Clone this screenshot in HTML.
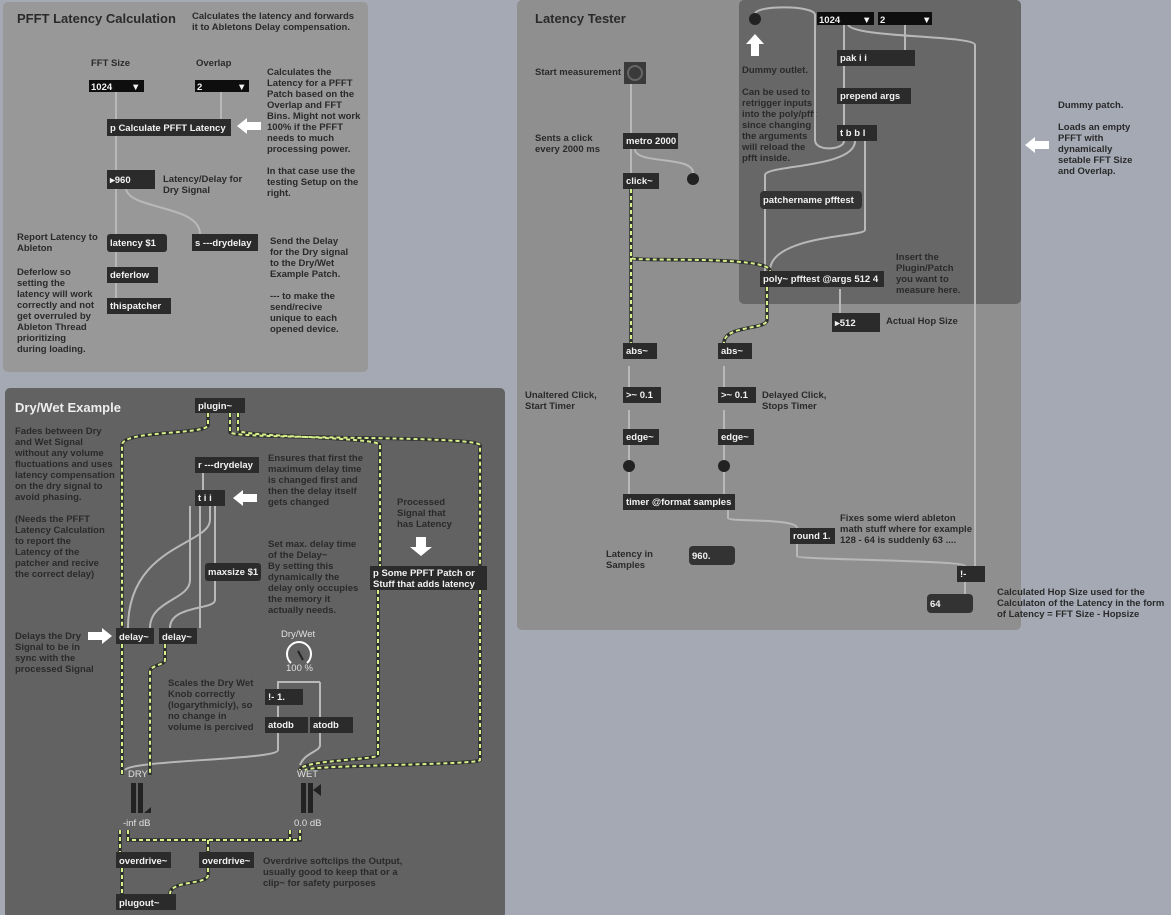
<!DOCTYPE html>
<html><head><meta charset="utf-8"><style>
body{margin:0;width:1171px;height:915px;background:#a4a9b4;overflow:hidden}
svg{display:block}
text{font-family:"Liberation Sans",sans-serif;font-weight:bold;font-size:9.5px;fill:#2a2a2a}
.w{fill:#f2f2f2}
.g{fill:#e0e0e0;font-weight:normal}
.c{fill:none;stroke:#b8b8b8;stroke-width:2}
.s1{fill:none;stroke:#2e2e2e;stroke-width:3.5}
.s2{fill:none;stroke:#d6f08a;stroke-width:2;stroke-dasharray:4 3}
</style></head><body>
<svg width="1171" height="915" xmlns="http://www.w3.org/2000/svg">
<defs>
<g id="ar"><path d="M0,0 L10,-8 L10,-4 L24,-4 L24,4 L10,4 L10,8Z" fill="#fff"/></g>
<g id="arr"><path d="M24,0 L14,-8 L14,-4 L0,-4 L0,4 L14,4 L14,8Z" fill="#fff"/></g>
</defs>
<rect x="3" y="2" width="365" height="370" rx="5" fill="#989898"/>
<rect x="5" y="388" width="500" height="530" rx="5" fill="#626262"/>
<rect x="517" y="0" width="504" height="630" rx="5" fill="#8f8f8f"/>
<rect x="739" y="0" width="282" height="304" rx="5" fill="#676767"/>

<!-- PANEL 1 -->
<text x="17" y="23" style="font-size:13px">PFFT Latency Calculation</text>
<text x="192" y="19">Calculates the latency and forwards</text>
<text x="192" y="30">it to Abletons Delay compensation.</text>
<text x="91" y="66">FFT Size</text><text x="196" y="66">Overlap</text>
<text x="267" y="75">Calculates the</text><text x="267" y="86">Latency for a PFFT</text><text x="267" y="97">Patch based on the</text><text x="267" y="108">Overlap and FFT</text><text x="267" y="119">Bins. Might not work</text><text x="267" y="130">100% if the PFFT</text><text x="267" y="141">needs to much</text><text x="267" y="152">processing power.</text>
<text x="267" y="174">In that case use the</text><text x="267" y="185">testing Setup on the</text><text x="267" y="196">right.</text>
<text x="163" y="182">Latency/Delay for</text><text x="163" y="193">Dry Signal</text>
<text x="17" y="240">Report Latency to</text><text x="17" y="251">Ableton</text>
<text x="17" y="275">Deferlow so</text><text x="17" y="286">setting the</text><text x="17" y="297">latency will work</text><text x="17" y="308">correctly and not</text><text x="17" y="319">get overruled by</text><text x="17" y="330">Ableton Thread</text><text x="17" y="341">prioritizing</text><text x="17" y="352">during loading.</text>
<text x="270" y="244">Send the Delay</text><text x="270" y="255">for the Dry signal</text><text x="270" y="266">to the Dry/Wet</text><text x="270" y="277">Example Patch.</text>
<text x="270" y="299">--- to make the</text><text x="270" y="310">send/recive</text><text x="270" y="321">unique to each</text><text x="270" y="332">opened device.</text>
<path class="c" d="M116,92V119 M221,92V119 M116,136V170 M116,189V234 M116,252V267 M116,283V298 M126,189 C130,210 200,205 200,234"/>
<rect x="89" y="80" width="55" height="12" fill="#0e0e0e"/><text x="91" y="90" class="w">1024</text><text x="131" y="90" class="w">▼</text>
<rect x="195" y="80" width="54" height="12" fill="#0e0e0e"/><text x="197" y="90" class="w">2</text><text x="237" y="90" class="w">▼</text>
<rect x="107" y="119" width="124" height="17" fill="#2b2b2b"/><text x="110" y="131" class="w">p Calculate PFFT Latency</text>
<use href="#ar" x="237" y="126"/>
<rect x="107" y="170" width="48" height="19" fill="#2b2b2b"/><text x="110" y="183" class="w">▸960</text>
<rect x="107" y="234" width="60" height="18" rx="3" fill="#2b2b2b"/><text x="110" y="246" class="w">latency $1</text>
<rect x="192" y="234" width="66" height="17" fill="#2b2b2b"/><text x="195" y="246" class="w">s ---drydelay</text>
<rect x="107" y="267" width="51" height="16" fill="#2b2b2b"/><text x="110" y="278" class="w">deferlow</text>
<rect x="107" y="298" width="64" height="16" fill="#2b2b2b"/><text x="110" y="309" class="w">thispatcher</text>

<!-- PANEL 2 -->
<text x="15" y="412" style="font-size:13px;fill:#eee">Dry/Wet Example</text>
<g>
<text x="15" y="434">Fades between Dry</text><text x="15" y="445">and Wet Signal</text><text x="15" y="456">without any volume</text><text x="15" y="467">fluctuations and uses</text><text x="15" y="478">latency compensation</text><text x="15" y="489">on the dry signal to</text><text x="15" y="500">avoid phasing.</text>
<text x="15" y="522">(Needs the PFFT</text><text x="15" y="533">Latency Calculation</text><text x="15" y="544">to report the</text><text x="15" y="555">Latency of the</text><text x="15" y="566">patcher and recive</text><text x="15" y="577">the correct delay)</text>
<text x="15" y="639">Delays the Dry</text><text x="15" y="650">Signal to be in</text><text x="15" y="661">sync with the</text><text x="15" y="672">processed Signal</text>
<text x="268" y="461">Ensures that first the</text><text x="268" y="472">maximum delay time</text><text x="268" y="483">is changed first and</text><text x="268" y="494">then the delay itself</text><text x="268" y="505">gets changed</text>
<text x="268" y="547">Set max. delay time</text><text x="268" y="558">of the Delay~</text><text x="268" y="569">By setting this</text><text x="268" y="580">dynamically the</text><text x="268" y="591">delay only occupies</text><text x="268" y="602">the memory it</text><text x="268" y="613">actually needs.</text>
<text x="397" y="505">Processed</text><text x="397" y="516">Signal that</text><text x="397" y="527">has Latency</text>
<text x="168" y="686">Scales the Dry Wet</text><text x="168" y="697">Knob correctly</text><text x="168" y="708">(logarythmicly), so</text><text x="168" y="719">no change in</text><text x="168" y="730">volume is percived</text>
<text x="263" y="864">Overdrive softclips the Output,</text><text x="263" y="875">usually good to keep that or a</text><text x="263" y="886">clip~ for safety purposes</text>
</g>
<path class="c" d="M203,473V490 M200,506V628 M210,506V520 C210,545 128,545 128,628 M215,506V563 M215,581V600 C215,610 170,605 170,628 M190,506V580 C190,600 150,600 150,628 M320,682V720 M320,682H278V689 M278,706V717 M278,733V750 C278,760 130,760 125,770 M320,733V745 C320,752 305,752 300,765"/>
<g>
<path class="s1" d="M208,413V425 C208,435 122,430 122,445V628 M238,413V430 C238,437 380,437 380,445V566 M230,413V432 C230,440 475,435 480,445V566 M122,644V775 M165,644V660 C165,665 150,665 150,672V775 M120,830V852 M128,830V840 H300V830 M208,840V852 M290,830V840 M122,868V894 M208,868V875 C208,885 170,880 170,894 M378,590V755 C378,760 300,760 300,770 M480,590V760 C480,765 310,765 305,770"/>
<path class="s2" d="M208,413V425 C208,435 122,430 122,445V628 M238,413V430 C238,437 380,437 380,445V566 M230,413V432 C230,440 475,435 480,445V566 M122,644V775 M165,644V660 C165,665 150,665 150,672V775 M120,830V852 M128,830V840 H300V830 M208,840V852 M290,830V840 M122,868V894 M208,868V875 C208,885 170,880 170,894 M378,590V755 C378,760 300,760 300,770 M480,590V760 C480,765 310,765 305,770"/>
</g>
<rect x="195" y="398" width="50" height="15" fill="#2b2b2b"/><text x="198" y="409" class="w">plugin~</text>
<rect x="195" y="457" width="64" height="16" fill="#2b2b2b"/><text x="198" y="468" class="w">r ---drydelay</text>
<rect x="195" y="490" width="30" height="16" fill="#2b2b2b"/><text x="198" y="501" class="w">t i i</text>
<use href="#ar" x="233" y="498"/>
<rect x="205" y="563" width="56" height="18" rx="3" fill="#2b2b2b"/><text x="208" y="575" class="w">maxsize $1</text>
<path d="M416,537h10v10h6l-11,9l-11,-9h6z" fill="#fff"/>
<rect x="370" y="566" width="117" height="24" fill="#2b2b2b"/><text x="373" y="576" class="w">p Some PPFT Patch or</text><text x="373" y="587" class="w">Stuff that adds latency</text>
<use href="#arr" x="88" y="636"/>
<rect x="116" y="628" width="38" height="16" fill="#2b2b2b"/><text x="119" y="640" class="w">delay~</text>
<rect x="159" y="628" width="38" height="16" fill="#2b2b2b"/><text x="162" y="640" class="w">delay~</text>
<text x="281" y="637" class="g">Dry/Wet</text>
<path d="M291,663 A12,12 0 1 1 307,663" fill="none" stroke="#fff" stroke-width="2"/><line x1="298" y1="651" x2="303" y2="660" stroke="#222" stroke-width="2"/>
<text x="286" y="671" class="g">100 %</text>
<rect x="265" y="689" width="38" height="16" fill="#2b2b2b"/><text x="268" y="700" class="w">!- 1.</text>
<rect x="265" y="717" width="43" height="16" fill="#2b2b2b"/><text x="268" y="728" class="w">atodb</text>
<rect x="310" y="717" width="43" height="16" fill="#2b2b2b"/><text x="313" y="728" class="w">atodb</text>
<text x="128" y="777" class="g">DRY</text><text x="297" y="777" class="g">WET</text>
<rect x="131" y="783" width="5" height="30" fill="#222"/><rect x="138" y="783" width="5" height="30" fill="#222"/><path d="M144,813h7v-6z" fill="#222"/>
<rect x="301" y="783" width="5" height="30" fill="#222"/><rect x="308" y="783" width="5" height="30" fill="#222"/><path d="M313,790l8,-6v12z" fill="#222"/>
<text x="123" y="826" class="g">-inf dB</text><text x="294" y="826" class="g">0.0 dB</text>
<rect x="116" y="852" width="55" height="16" fill="#2b2b2b"/><text x="119" y="864" class="w">overdrive~</text>
<rect x="199" y="852" width="55" height="16" fill="#2b2b2b"/><text x="202" y="864" class="w">overdrive~</text>
<rect x="116" y="894" width="60" height="16" fill="#2b2b2b"/><text x="119" y="906" class="w">plugout~</text>

<!-- PANEL 3 -->
<text x="535" y="23" style="font-size:13px">Latency Tester</text>
<text x="535" y="75">Start measurement</text>
<text x="535" y="141">Sents a click</text><text x="535" y="152">every 2000 ms</text>
<text x="742" y="73">Dummy outlet.</text>
<text x="742" y="95">Can be used to</text><text x="742" y="106">retrigger inputs</text><text x="742" y="117">into the poly/pfft</text><text x="742" y="128">since changing</text><text x="742" y="139">the arguments</text><text x="742" y="150">will reload the</text><text x="742" y="161">pfft inside.</text>
<text x="1058" y="108">Dummy patch.</text>
<text x="1058" y="130">Loads an empty</text><text x="1058" y="141">PFFT with</text><text x="1058" y="152">dynamically</text><text x="1058" y="163">setable FFT Size</text><text x="1058" y="174">and Overlap.</text>
<text x="896" y="260">Insert the</text><text x="896" y="271">Plugin/Patch</text><text x="896" y="282">you want to</text><text x="896" y="293">measure here.</text>
<text x="886" y="324">Actual Hop Size</text>
<text x="525" y="398">Unaltered Click,</text><text x="525" y="409">Start Timer</text>
<text x="762" y="398">Delayed Click,</text><text x="762" y="409">Stops Timer</text>
<text x="840" y="521">Fixes some wierd ableton</text><text x="840" y="532">math stuff where for example</text><text x="840" y="543">128 - 64 is suddenly 63 ....</text>
<text x="606" y="557">Latency in</text><text x="606" y="568">Samples</text>
<text x="997" y="595">Calculated Hop Size used for the</text><text x="997" y="606">Calculaton of the Latency in the form</text><text x="997" y="617">of  Latency = FFT Size - Hopsize</text>
<path class="c" d="M631,84V133 M631,149V173 M635,149C635,165 693,155 693,173 M844,24V50 M905,24V50 M844,66V88 M844,104V125 M844,141C844,150 815,152 815,140V15C815,5 755,5 755,14 M855,141C855,168 765,165 765,175V271 M865,141V230C865,237 770,235 770,271 M848,24C848,38 975,35 975,45V566 M840,289V313 M728,510V518C728,522 797,518 797,528 M797,544V556C797,560 965,560 965,566 M965,582V594 M629,410V429 M724,410V429 M629,366V387 M724,366V387 M629,445V466 M724,445V466 M629,472V494 M724,472V494"/>
<path class="s1" d="M631,189V258C631,262 770,255 770,271 M631,258V343 M767,287V320C767,330 724,325 724,343"/><path class="s2" d="M631,189V258C631,262 770,255 770,271 M631,258V343 M767,287V320C767,330 724,325 724,343"/>
<rect x="624" y="62" width="22" height="22" fill="#3a3a3a"/><circle cx="635" cy="73" r="7" fill="none" stroke="#666" stroke-width="2"/>
<rect x="623" y="133" width="55" height="16" fill="#2b2b2b"/><text x="626" y="144" class="w">metro 2000</text>
<rect x="623" y="173" width="36" height="16" fill="#2b2b2b"/><text x="626" y="184" class="w">click~</text>
<circle cx="693" cy="179" r="6" fill="#222"/>
<circle cx="755" cy="19" r="6" fill="#222"/>
<path d="M755,34l9,10h-5v12h-8v-12h-5z" fill="#fff"/>
<rect x="817" y="12" width="57" height="13" fill="#0e0e0e"/><text x="819" y="23" class="w">1024</text><text x="862" y="23" class="w">▼</text>
<rect x="878" y="12" width="54" height="13" fill="#0e0e0e"/><text x="880" y="23" class="w">2</text><text x="922" y="23" class="w">▼</text>
<rect x="837" y="50" width="78" height="16" fill="#2b2b2b"/><text x="840" y="61" class="w">pak i i</text>
<rect x="837" y="88" width="74" height="16" fill="#2b2b2b"/><text x="840" y="99" class="w">prepend args</text>
<rect x="837" y="125" width="40" height="16" fill="#2b2b2b"/><text x="840" y="136" class="w">t b b l</text>
<use href="#ar" x="1025" y="145"/>
<rect x="760" y="191" width="102" height="18" rx="4" fill="#333"/><text x="763" y="203" class="w">patchername pfftest</text>
<rect x="760" y="271" width="124" height="16" fill="#2b2b2b"/><text x="763" y="282" class="w">poly~ pfftest @args 512 4</text>
<rect x="832" y="313" width="48" height="19" fill="#2b2b2b"/><text x="835" y="326" class="w">▸512</text>
<rect x="623" y="343" width="34" height="16" fill="#2b2b2b"/><text x="626" y="354" class="w">abs~</text>
<rect x="718" y="343" width="34" height="16" fill="#2b2b2b"/><text x="721" y="354" class="w">abs~</text>
<rect x="623" y="387" width="38" height="16" fill="#2b2b2b"/><text x="626" y="398" class="w">&gt;~ 0.1</text>
<rect x="718" y="387" width="38" height="16" fill="#2b2b2b"/><text x="721" y="398" class="w">&gt;~ 0.1</text>
<rect x="623" y="429" width="36" height="16" fill="#2b2b2b"/><text x="626" y="440" class="w">edge~</text>
<rect x="718" y="429" width="36" height="16" fill="#2b2b2b"/><text x="721" y="440" class="w">edge~</text>
<circle cx="629" cy="466" r="6" fill="#222"/><circle cx="724" cy="466" r="6" fill="#222"/>
<rect x="623" y="494" width="112" height="16" fill="#2b2b2b"/><text x="626" y="505" class="w">timer @format samples</text>
<rect x="790" y="528" width="45" height="16" fill="#2b2b2b"/><text x="793" y="539" class="w">round 1.</text>
<rect x="689" y="546" width="46" height="19" rx="4" fill="#333"/><text x="692" y="559" class="w">960.</text>
<rect x="957" y="566" width="28" height="16" fill="#2b2b2b"/><text x="960" y="577" class="w">!-</text>
<rect x="927" y="594" width="46" height="19" rx="4" fill="#333"/><text x="930" y="607" class="w">64</text>
</svg>
</body></html>
